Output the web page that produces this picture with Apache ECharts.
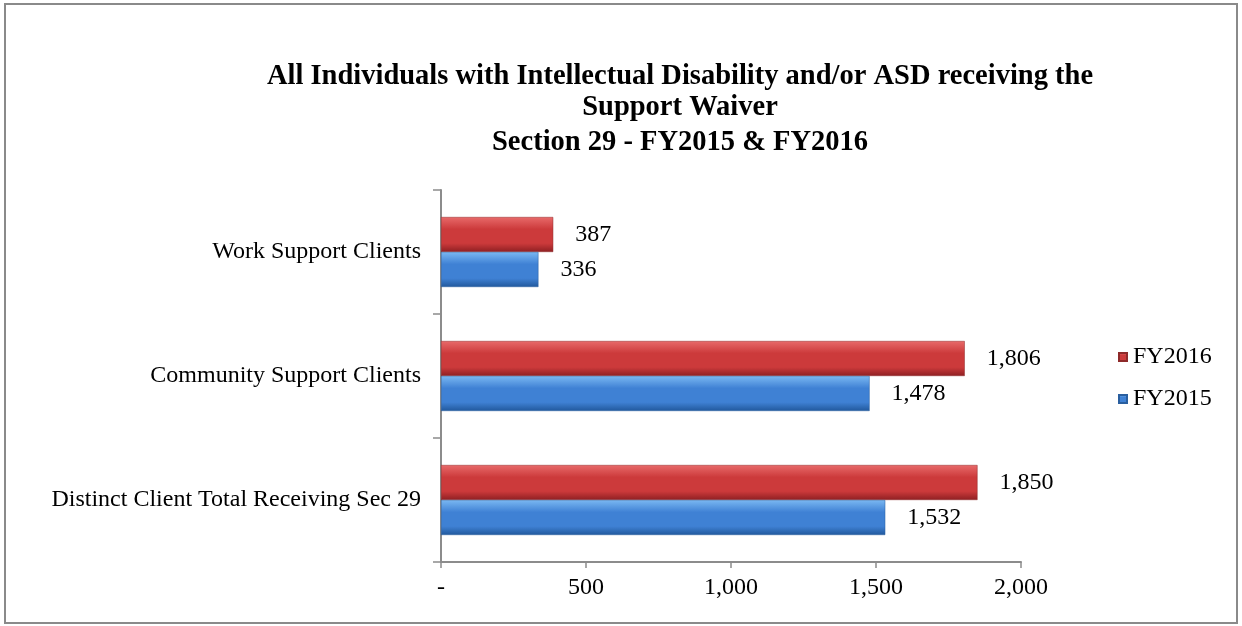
<!DOCTYPE html>
<html>
<head>
<meta charset="utf-8">
<script src="https://cdn.jsdelivr.net/npm/echarts@6/dist/echarts.min.js"></script>
<style>
  html, body { margin: 0; padding: 0; background: #fff; }
  #chart { width: 1242px; height: 626px; }
</style>
</head>
<body>
<div id="chart"></div>
<script>
// Section 29 client counts by category and fiscal year
const categories = ['Distinct Client Total Receiving Sec 29', 'Community Support Clients', 'Work Support Clients'];
const fy2016 = [1850, 1806, 387];
const fy2015 = [1532, 1478, 336];
const xTicks = [0, 500, 1000, 1500, 2000];

const serif = '"Liberation Serif", "DejaVu Serif", serif';

function fmt(v) {
  if (v === 0) return '-';
  return v.toLocaleString('en-US');
}

function barGradient(top, mid, bottom) {
  return new echarts.graphic.LinearGradient(0, 0, 0, 1, [
    { offset: 0, color: top },
    { offset: 0.35, color: mid },
    { offset: 0.75, color: mid },
    { offset: 1, color: bottom }
  ]);
}

const valueLabel = {
  show: true,
  position: 'right',
  distance: 22,
  fontFamily: serif,
  fontSize: 24,
  color: '#000',
  formatter: function (p) { return fmt(p.value); }
};

const titleText = {
  fontFamily: serif,
  fontWeight: 'bold',
  fontSize: 28.5,
  lineHeight: 31,
  color: '#000'
};

const chart = echarts.init(document.getElementById('chart'));
chart.setOption({
  backgroundColor: '#fff',
  animation: false,
  graphic: [{
    type: 'rect',
    shape: { x: 5, y: 4, width: 1232, height: 619 },
    style: { fill: 'none', stroke: '#8a8a8a', lineWidth: 2 }
  }],
  title: [
    {
      text: 'All Individuals with Intellectual Disability and/or ASD receiving the\nSupport Waiver',
      left: 680,
      textAlign: 'center',
      top: 61,
      padding: 0,
      textStyle: titleText
    },
    {
      text: 'Section 29 - FY2015 & FY2016',
      left: 680,
      textAlign: 'center',
      top: 127,
      padding: 0,
      textStyle: titleText
    }
  ],
  legend: {
    orient: 'vertical',
    left: 1118,
    top: 345,
    padding: 0,
    itemWidth: 8,
    itemHeight: 8,
    itemGap: 18,
    icon: 'rect',
    data: ['FY2016', 'FY2015'],
    textStyle: { fontFamily: serif, fontSize: 24, lineHeight: 24, color: '#000', padding: [0, 0, 0, 1] }
  },
  grid: { left: 441, right: 221, top: 190, bottom: 64, containLabel: false },
  xAxis: {
    type: 'value',
    min: 0,
    max: 2000,
    interval: 500,
    axisLine: { show: true, lineStyle: { color: '#8c8c8c', width: 2 } },
    axisTick: { show: true, length: 6, lineStyle: { color: '#8c8c8c', width: 1.5 } },
    splitLine: { show: false },
    axisLabel: {
      fontFamily: serif,
      fontSize: 24,
      color: '#000',
      margin: 14,
      formatter: function (v) { return xTicks.indexOf(v) >= 0 ? fmt(v) : ''; }
    }
  },
  yAxis: {
    type: 'category',
    data: categories,
    axisLine: { show: true, lineStyle: { color: '#8c8c8c', width: 2 } },
    axisTick: { show: true, length: 8, lineStyle: { color: '#8c8c8c', width: 1.5 } },
    axisLabel: { fontFamily: serif, fontSize: 24, color: '#000', margin: 20 }
  },
  series: [
    {
      name: 'FY2016',
      type: 'bar',
      data: fy2016,
      barWidth: 35,
      barGap: '0%',
      itemStyle: {
        color: barGradient('#e86a6a', '#cc3a3b', '#8e1f22'),
        borderColor: '#8e2a2a',
        borderWidth: 0.5
      },
      label: valueLabel
    },
    {
      name: 'FY2015',
      type: 'bar',
      data: fy2015,
      barWidth: 35,
      barGap: '0%',
      itemStyle: {
        color: barGradient('#7ab8f2', '#3f81d4', '#21589c'),
        borderColor: '#2a5f9f',
        borderWidth: 0.5
      },
      label: valueLabel
    }
  ]
});
</script>
</body>
</html>
